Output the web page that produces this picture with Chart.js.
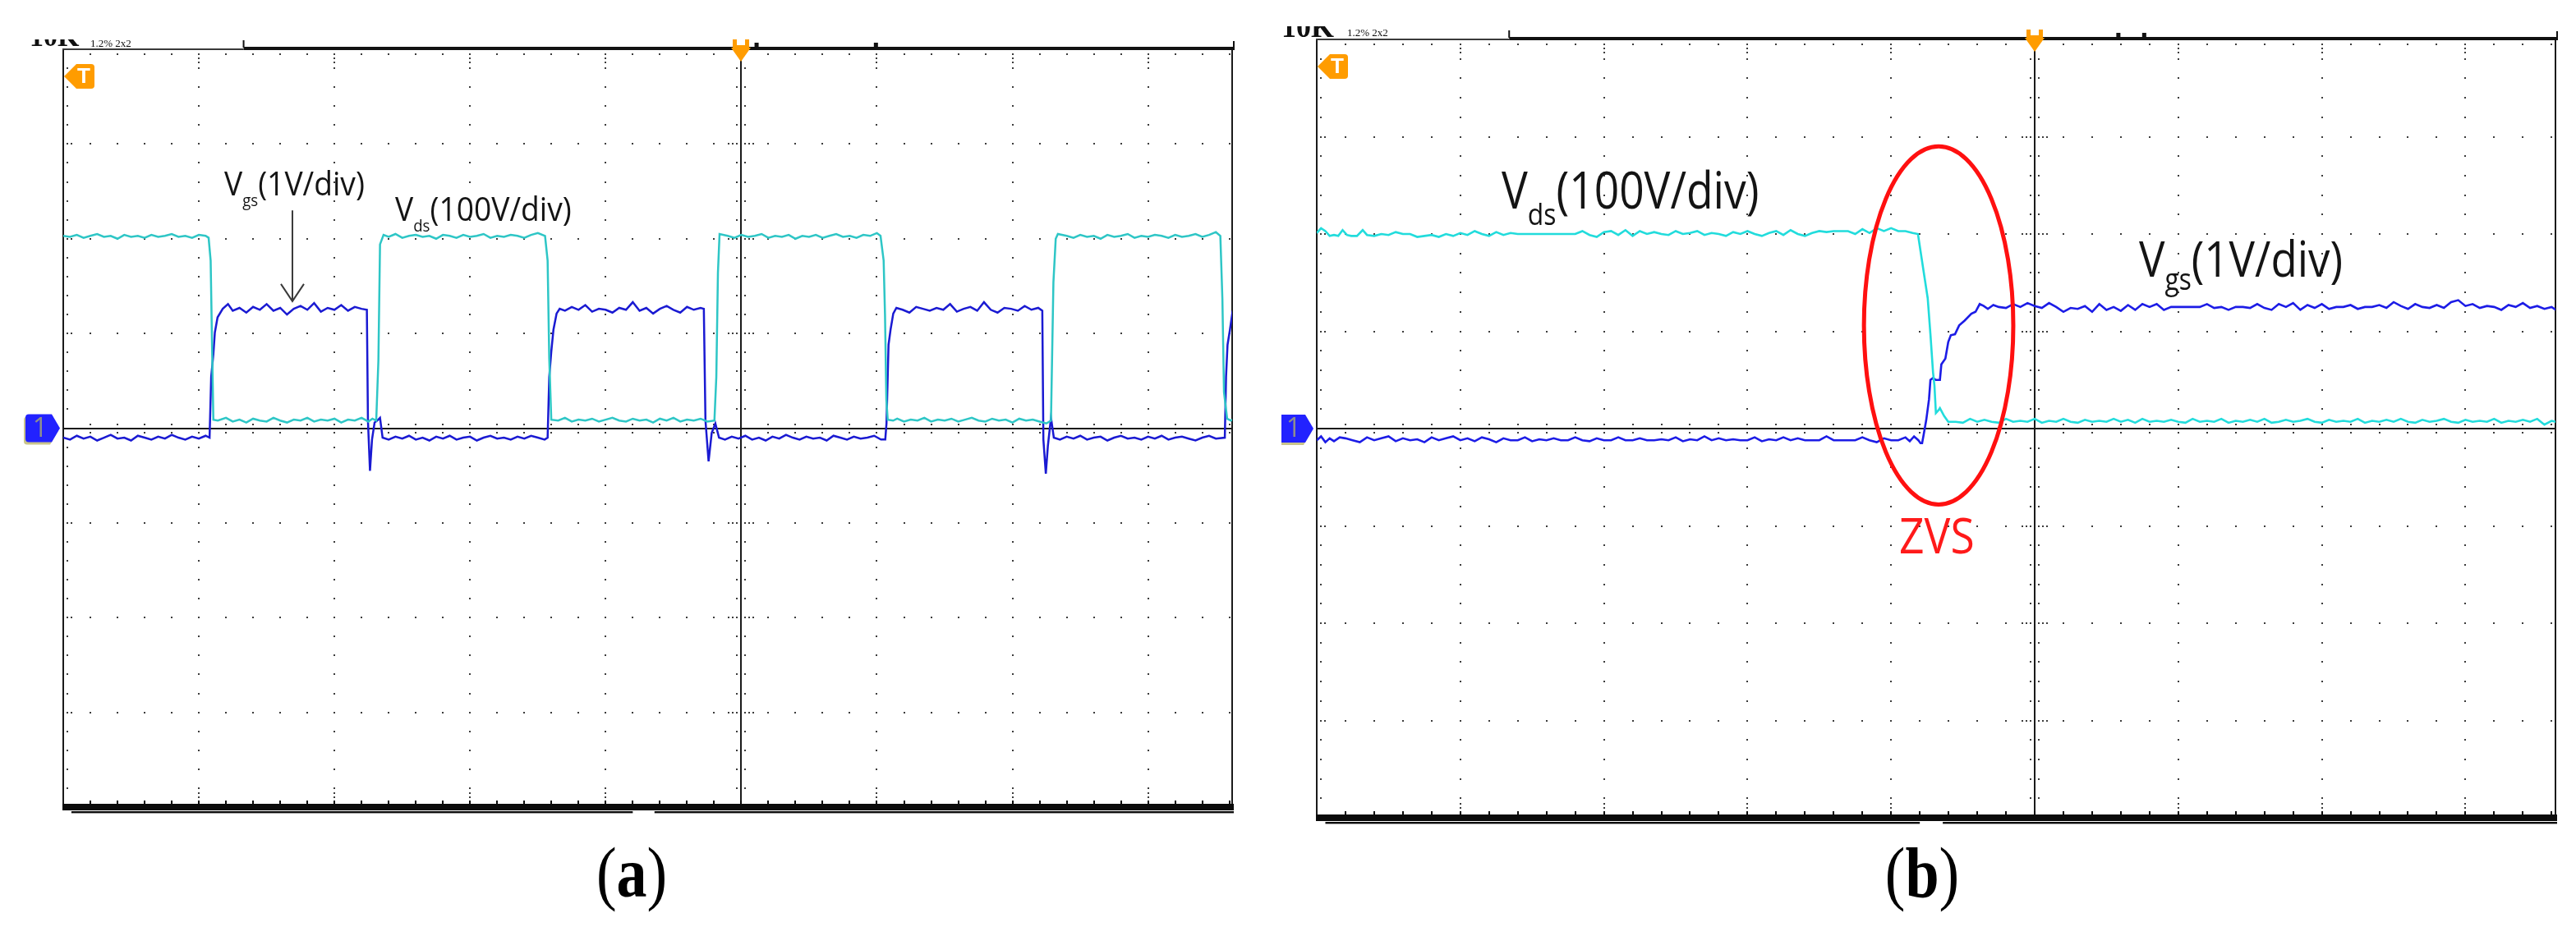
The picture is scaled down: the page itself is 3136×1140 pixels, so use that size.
<!DOCTYPE html>
<html>
<head>
<meta charset="utf-8">
<script src="https://cdn.jsdelivr.net/npm/chart.js@4.4.1/dist/chart.umd.min.js"></script>
<style>
  html, body { margin: 0; padding: 0; background: #fff; }
  body { width: 3136px; height: 1140px; position: relative; overflow: hidden; font-family: "Open Sans", sans-serif; }
  canvas { position: absolute; top: 0; }
  .lbl { position: absolute; white-space: nowrap; line-height: 1; color: #141414; transform-origin: 0 0; }
  .lbl .sb { position: relative; }
  .cap { position: absolute; width: 300px; text-align: center; font-family: "Liberation Serif", serif; font-size: 86px; line-height: 1; color: #000; transform: scaleX(0.86); }
  .cap b { font-weight: bold; }
  .hdr { position: absolute; overflow: hidden; }
  .hdr span { position: absolute; white-space: nowrap; line-height: 1; color: #111; font-family: "Liberation Serif", serif; font-weight: bold; }
</style>
</head>
<body>
<canvas id="scopeA" width="1560" height="1010" style="left:0;width:1560px;height:1010px"></canvas>
<canvas id="scopeB" width="1576" height="1020" style="left:1560px;width:1576px;height:1020px"></canvas>

<div class="hdr" style="left:36px;top:48px;width:160px;height:10px">
  <span style="left:0;top:-20px;font-size:34px">10K</span>
  <span style="left:74px;top:-2px;font-size:13px;font-weight:normal">1.2% 2x2</span>
</div>
<div class="hdr" style="left:1560px;top:32px;width:160px;height:14px">
  <span style="left:0;top:-17px;font-size:36px">10K</span>
  <span style="left:80px;top:1px;font-size:13px;font-weight:normal">1.2% 2x2</span>
</div>

<div class="lbl" style="left:273px;top:203px;font-size:40px;transform:scaleX(0.93)">V<span class="sb" style="font-size:20px;top:13px">gs</span>(1V/div)</div>
<div class="lbl" style="left:481px;top:234px;font-size:40px;transform:scaleX(0.93)">V<span class="sb" style="font-size:20px;top:13px">ds</span>(100V/div)</div>
<div class="lbl" style="left:1828px;top:199px;font-size:62px;transform:scaleX(0.86)">V<span class="sb" style="font-size:37px;top:20px">ds</span>(100V/div)</div>
<div class="lbl" style="left:2604px;top:284px;font-size:60px;transform:scaleX(0.88)">V<span class="sb" style="font-size:36px;top:16px">gs</span>(1V/div)</div>
<div class="lbl" style="left:2312px;top:621px;font-size:60px;color:#ff1a1a;transform:scaleX(0.89)">ZVS</div>

<div class="cap" style="left:619px;top:1020px">(<b>a</b>)</div>
<div class="cap" style="left:2190px;top:1020px">(<b>b</b>)</div>

<script>
// time in screen divisions, voltage in volts
// (a) Vds, 100 V/div
const vdsA = [[0,203],[0.05,202],[0.1,204],[0.15,201],[0.2,203],[0.25,205],[0.3,202],[0.35,203],[0.4,200],[0.45,204],[0.5,202],[0.55,203],[0.6,201],[0.65,204],[0.7,202],[0.75,203],[0.8,205],[0.85,202],[0.9,203],[0.95,201],[1,204],[1.05,203],[1.072,201],[1.087,177],[1.099,74],[1.107,9],[1.14,8],[1.2,11],[1.25,7],[1.3,9],[1.35,6],[1.4,10],[1.45,8],[1.5,7],[1.55,11],[1.6,8],[1.65,6],[1.7,9],[1.75,8],[1.8,11],[1.85,7],[1.9,9],[1.95,8],[2,10],[2.05,6],[2.1,9],[2.15,8],[2.2,11],[2.25,7],[2.28,10],[2.308,8],[2.324,71],[2.336,194],[2.362,204],[2.4,202],[2.45,205],[2.5,201],[2.55,203],[2.6,204],[2.65,202],[2.7,203],[2.75,200],[2.8,204],[2.85,203],[2.9,201],[2.95,204],[3,202],[3.05,203],[3.1,205],[3.15,201],[3.2,203],[3.25,202],[3.3,204],[3.35,203],[3.4,201],[3.45,204],[3.5,206],[3.553,203],[3.572,177],[3.584,74],[3.599,9],[3.65,8],[3.7,11],[3.75,7],[3.8,9],[3.85,8],[3.9,10],[3.95,7],[4,9],[4.05,11],[4.1,8],[4.15,7],[4.2,10],[4.25,8],[4.3,9],[4.35,6],[4.4,10],[4.45,8],[4.5,11],[4.55,7],[4.6,9],[4.65,8],[4.7,10],[4.75,7],[4.802,8],[4.816,54],[4.828,164],[4.84,205],[4.9,203],[4.95,201],[5,204],[5.05,202],[5.1,203],[5.15,205],[5.2,201],[5.25,203],[5.3,202],[5.35,204],[5.4,200],[5.45,203],[5.5,202],[5.55,204],[5.6,201],[5.65,203],[5.7,205],[5.75,202],[5.8,203],[5.85,201],[5.9,204],[5.95,203],[6,206],[6.027,203],[6.05,177],[6.06,120],[6.07,30],[6.08,9],[6.12,8],[6.15,10],[6.2,7],[6.25,9],[6.3,8],[6.35,11],[6.4,7],[6.45,9],[6.5,8],[6.55,10],[6.6,7],[6.65,9],[6.7,11],[6.75,8],[6.8,7],[6.85,10],[6.9,8],[6.95,9],[7,6],[7.05,10],[7.1,8],[7.15,9],[7.2,7],[7.25,5],[7.284,8],[7.302,154],[7.319,200],[7.335,205],[7.4,203],[7.45,201],[7.5,204],[7.55,202],[7.6,203],[7.65,200],[7.7,204],[7.75,202],[7.8,203],[7.85,205],[7.9,201],[7.95,203],[8,202],[8.05,204],[8.1,203],[8.15,201],[8.2,204],[8.25,202],[8.3,203],[8.35,205],[8.4,202],[8.45,204],[8.5,207],[8.533,203],[8.548,137],[8.56,38],[8.583,10],[8.61,8],[8.62,9]];

// (a) Vgs, 1 V/div
const vgsA = [[0,-0.1],[0.05,-0.12],[0.1,-0.08],[0.15,-0.11],[0.2,-0.09],[0.25,-0.13],[0.3,-0.1],[0.35,-0.07],[0.4,-0.11],[0.45,-0.1],[0.5,-0.13],[0.55,-0.08],[0.6,-0.1],[0.65,-0.12],[0.7,-0.09],[0.75,-0.11],[0.8,-0.07],[0.85,-0.1],[0.9,-0.12],[0.95,-0.09],[1,-0.11],[1.05,-0.08],[1.079,-0.1],[1.091,0.54],[1.107,0.78],[1.118,1.01],[1.138,1.17],[1.176,1.26],[1.215,1.31],[1.25,1.24],[1.3,1.27],[1.35,1.22],[1.4,1.28],[1.45,1.25],[1.5,1.31],[1.55,1.24],[1.6,1.27],[1.65,1.2],[1.7,1.26],[1.75,1.29],[1.8,1.25],[1.85,1.32],[1.9,1.23],[1.95,1.27],[2,1.25],[2.05,1.3],[2.1,1.24],[2.15,1.28],[2.2,1.26],[2.239,1.25],[2.247,0.08],[2.262,-0.45],[2.277,-0.12],[2.296,0.06],[2.315,0.08],[2.336,0.11],[2.355,-0.1],[2.4,-0.12],[2.45,-0.09],[2.5,-0.11],[2.55,-0.08],[2.6,-0.12],[2.65,-0.1],[2.7,-0.13],[2.75,-0.09],[2.8,-0.11],[2.85,-0.08],[2.9,-0.12],[2.95,-0.1],[3,-0.09],[3.05,-0.13],[3.1,-0.1],[3.15,-0.08],[3.2,-0.11],[3.25,-0.1],[3.3,-0.12],[3.35,-0.09],[3.4,-0.11],[3.45,-0.08],[3.5,-0.1],[3.55,-0.12],[3.572,-0.1],[3.584,0.54],[3.599,0.81],[3.615,1.04],[3.638,1.21],[3.661,1.26],[3.7,1.24],[3.75,1.28],[3.8,1.25],[3.85,1.3],[3.9,1.23],[3.95,1.26],[4,1.25],[4.05,1.22],[4.1,1.27],[4.15,1.25],[4.2,1.33],[4.25,1.24],[4.3,1.27],[4.35,1.21],[4.4,1.26],[4.45,1.29],[4.5,1.25],[4.55,1.22],[4.6,1.28],[4.65,1.25],[4.7,1.27],[4.724,1.26],[4.736,0.08],[4.759,-0.35],[4.782,-0.05],[4.809,0.05],[4.836,-0.1],[4.88,-0.12],[4.93,-0.09],[4.98,-0.11],[5.03,-0.08],[5.08,-0.12],[5.13,-0.1],[5.18,-0.13],[5.23,-0.09],[5.28,-0.11],[5.33,-0.07],[5.38,-0.1],[5.43,-0.12],[5.48,-0.09],[5.53,-0.11],[5.58,-0.1],[5.63,-0.13],[5.68,-0.08],[5.73,-0.1],[5.78,-0.12],[5.83,-0.09],[5.88,-0.11],[5.93,-0.1],[5.98,-0.08],[6.03,-0.12],[6.062,-0.12],[6.071,0.05],[6.086,0.88],[6.101,1.04],[6.121,1.21],[6.144,1.27],[6.19,1.25],[6.24,1.22],[6.29,1.28],[6.34,1.26],[6.39,1.24],[6.44,1.27],[6.49,1.25],[6.54,1.31],[6.59,1.23],[6.64,1.26],[6.69,1.28],[6.74,1.24],[6.79,1.33],[6.84,1.25],[6.89,1.22],[6.94,1.27],[6.99,1.26],[7.04,1.24],[7.09,1.29],[7.14,1.25],[7.19,1.27],[7.22,1.24],[7.228,-0.12],[7.246,-0.48],[7.261,-0.19],[7.284,0.11],[7.305,-0.1],[7.35,-0.12],[7.4,-0.09],[7.45,-0.11],[7.5,-0.08],[7.55,-0.12],[7.6,-0.1],[7.65,-0.09],[7.7,-0.13],[7.75,-0.1],[7.8,-0.08],[7.85,-0.11],[7.9,-0.1],[7.95,-0.12],[8,-0.09],[8.05,-0.11],[8.1,-0.08],[8.15,-0.12],[8.2,-0.1],[8.25,-0.09],[8.3,-0.11],[8.35,-0.13],[8.4,-0.1],[8.45,-0.08],[8.5,-0.11],[8.566,-0.1],[8.575,0.54],[8.586,0.88],[8.604,1.04],[8.624,1.24]];

// (b) Vds, 100 V/div
const vdsB = [[0,201],[0.03,206],[0.06,203],[0.09,198],[0.12,199],[0.15,198],[0.18,204],[0.21,199],[0.24,198],[0.28,198],[0.32,204],[0.35,199],[0.4,198],[0.45,200],[0.5,199],[0.55,202],[0.6,200],[0.65,200],[0.7,197],[0.75,198],[0.8,199],[0.85,197],[0.9,200],[0.95,198],[1,201],[1.05,199],[1.1,203],[1.15,200],[1.2,198],[1.25,202],[1.3,199],[1.35,201],[1.4,200],[1.45,200],[1.5,200],[1.55,200],[1.6,200],[1.65,200],[1.7,200],[1.75,200],[1.8,200],[1.85,203],[1.9,199],[1.95,197],[2,202],[2.05,203],[2.1,199],[2.15,204],[2.2,198],[2.25,203],[2.3,200],[2.35,202],[2.4,200],[2.45,199],[2.5,203],[2.55,200],[2.6,201],[2.65,203],[2.7,199],[2.75,201],[2.8,200],[2.85,198],[2.9,202],[2.95,200],[3,203],[3.05,200],[3.1,198],[3.15,201],[3.2,203],[3.25,199],[3.3,204],[3.35,200],[3.4,198],[3.45,201],[3.5,203],[3.55,202],[3.6,203],[3.65,203],[3.7,203],[3.75,200],[3.8,205],[3.85,201],[3.9,206],[3.95,203],[4,206],[4.05,203],[4.1,203],[4.15,201],[4.187,200],[4.226,162],[4.255,134],[4.274,97],[4.292,58],[4.302,44],[4.312,16],[4.331,19],[4.34,21],[4.369,13],[4.398,7],[4.45,7],[4.5,6],[4.55,10],[4.6,7],[4.65,9],[4.7,7],[4.75,6],[4.8,10],[4.85,7],[4.9,8],[4.95,7],[5,10],[5.05,6],[5.1,8],[5.15,7],[5.2,10],[5.25,7],[5.3,6],[5.35,9],[5.4,7],[5.45,8],[5.5,7],[5.55,10],[5.6,7],[5.65,9],[5.7,6],[5.75,10],[5.8,7],[5.85,8],[5.9,7],[5.95,9],[6,7],[6.05,6],[6.1,10],[6.15,7],[6.2,8],[6.25,7],[6.3,10],[6.35,6],[6.4,8],[6.45,7],[6.5,9],[6.55,7],[6.6,10],[6.65,6],[6.7,7],[6.75,9],[6.8,7],[6.85,8],[6.9,10],[6.95,7],[7,6],[7.05,9],[7.1,7],[7.15,8],[7.2,7],[7.25,10],[7.3,6],[7.35,8],[7.4,7],[7.45,9],[7.5,7],[7.55,10],[7.6,7],[7.65,6],[7.7,9],[7.75,7],[7.8,8],[7.85,10],[7.9,7],[7.95,6],[8,9],[8.05,7],[8.1,8],[8.15,7],[8.2,10],[8.25,6],[8.3,8],[8.35,7],[8.4,9],[8.45,7],[8.5,10],[8.55,4],[8.6,8],[8.63,7]];

// (b) Vgs, 1 V/div
const vgsB = [[0,-0.12],[0.03,-0.08],[0.06,-0.14],[0.09,-0.1],[0.12,-0.13],[0.16,-0.09],[0.2,-0.1],[0.25,-0.12],[0.3,-0.14],[0.35,-0.09],[0.4,-0.12],[0.45,-0.1],[0.5,-0.08],[0.55,-0.13],[0.6,-0.1],[0.65,-0.12],[0.7,-0.11],[0.75,-0.14],[0.8,-0.09],[0.85,-0.12],[0.9,-0.1],[0.95,-0.08],[1,-0.12],[1.05,-0.1],[1.1,-0.13],[1.15,-0.09],[1.2,-0.11],[1.25,-0.14],[1.3,-0.1],[1.35,-0.12],[1.4,-0.12],[1.45,-0.09],[1.5,-0.13],[1.55,-0.11],[1.6,-0.12],[1.65,-0.1],[1.7,-0.12],[1.75,-0.12],[1.8,-0.09],[1.85,-0.12],[1.9,-0.13],[1.95,-0.1],[2,-0.12],[2.05,-0.12],[2.1,-0.09],[2.15,-0.12],[2.2,-0.12],[2.25,-0.1],[2.3,-0.12],[2.35,-0.12],[2.4,-0.11],[2.45,-0.12],[2.5,-0.09],[2.55,-0.13],[2.6,-0.11],[2.65,-0.12],[2.7,-0.08],[2.75,-0.12],[2.8,-0.1],[2.85,-0.12],[2.9,-0.11],[2.95,-0.12],[3,-0.12],[3.05,-0.09],[3.1,-0.13],[3.15,-0.11],[3.2,-0.12],[3.25,-0.09],[3.3,-0.12],[3.35,-0.1],[3.4,-0.12],[3.45,-0.12],[3.5,-0.12],[3.55,-0.08],[3.6,-0.12],[3.65,-0.12],[3.7,-0.12],[3.75,-0.12],[3.8,-0.09],[3.85,-0.12],[3.9,-0.14],[3.95,-0.1],[4,-0.12],[4.05,-0.12],[4.1,-0.09],[4.13,-0.13],[4.16,-0.08],[4.19,-0.12],[4.205,-0.15],[4.216,-0.15],[4.226,-0.07],[4.245,0.09],[4.264,0.3],[4.274,0.5],[4.292,0.52],[4.312,0.5],[4.34,0.5],[4.35,0.66],[4.378,0.72],[4.398,0.89],[4.416,0.96],[4.445,0.97],[4.474,1.06],[4.512,1.11],[4.559,1.18],[4.588,1.2],[4.617,1.28],[4.645,1.26],[4.674,1.23],[4.712,1.27],[4.75,1.25],[4.8,1.24],[4.85,1.28],[4.9,1.25],[4.95,1.29],[5,1.26],[5.05,1.24],[5.1,1.29],[5.15,1.25],[5.2,1.2],[5.25,1.24],[5.3,1.23],[5.35,1.26],[5.4,1.2],[5.45,1.28],[5.5,1.22],[5.55,1.25],[5.6,1.21],[5.65,1.27],[5.7,1.22],[5.75,1.28],[5.8,1.25],[5.85,1.28],[5.9,1.22],[5.95,1.25],[6,1.25],[6.05,1.25],[6.1,1.25],[6.15,1.25],[6.2,1.28],[6.25,1.24],[6.3,1.25],[6.35,1.22],[6.4,1.25],[6.45,1.25],[6.5,1.24],[6.55,1.28],[6.6,1.24],[6.65,1.22],[6.7,1.28],[6.75,1.25],[6.8,1.29],[6.85,1.22],[6.9,1.27],[6.95,1.24],[7,1.28],[7.05,1.23],[7.1,1.25],[7.15,1.25],[7.2,1.27],[7.25,1.23],[7.3,1.25],[7.35,1.25],[7.4,1.27],[7.45,1.24],[7.5,1.3],[7.55,1.26],[7.6,1.23],[7.65,1.28],[7.7,1.25],[7.75,1.24],[7.8,1.27],[7.85,1.24],[7.9,1.3],[7.95,1.32],[8,1.26],[8.05,1.28],[8.1,1.24],[8.15,1.26],[8.2,1.25],[8.25,1.22],[8.3,1.27],[8.35,1.25],[8.4,1.29],[8.45,1.24],[8.5,1.26],[8.55,1.23],[8.6,1.25],[8.63,1.22]];

const SUB = 0.2; // minor subdivision, in divisions

// draws the scope graticule, bars and markers using the chart's own scales
const scopePlugin = {
  id: 'scope',
  beforeDatasetsDraw(chart, args, o) {
    const ctx = chart.ctx, a = chart.chartArea;
    const xs = chart.scales.x, ys = chart.scales.yG;
    const X = v => xs.getPixelForValue(v), Y = v => ys.getPixelForValue(v);
    const dot = (px, py) => ctx.fillRect(Math.round(px) - 1, Math.round(py) - 1, 2, 2);
    const nx = Math.floor(xs.max / SUB + 1e-6);
    ctx.save();
    ctx.fillStyle = '#3c3c3c';
    for (let i = 1; i < xs.max; i++) {
      if (i === 5) continue;
      for (let k = 1; k < 40; k++) dot(X(i), Y(-4 + k * SUB));
    }
    for (let j = -3; j <= 3; j++) {
      if (j === 0) continue;
      for (let k = 1; k <= nx; k++) dot(X(k * SUB), Y(j));
    }
    const cx = X(5), cy = Y(0);
    for (let k = 1; k < 40; k++) {
      const py = Y(-4 + k * SUB);
      dot(cx - 5, py); dot(cx + 5, py);
      dot(a.left + 5, py);
      if (k % 5 === 0) {
        dot(cx - 10, py); dot(cx + 10, py); dot(cx - 15, py); dot(cx + 15, py);
        dot(a.left + 10, py);
      }
    }
    for (let k = 1; k <= nx; k++) {
      const px = X(k * SUB);
      dot(px, cy - 5); dot(px, cy + 5);
      dot(px, a.top + 6);
      if (k % 5 === 0) { dot(px, a.top + 11); dot(px, a.top + 16); dot(px, a.bottom - 12); dot(px, a.bottom - 17); }
    }
    ctx.fillStyle = '#1a1a1a';
    ctx.fillRect(Math.round(cx) - 1, a.top, 2, a.bottom - a.top);
    ctx.fillRect(a.left, Math.round(cy) - 1, a.right - a.left, 2);
    ctx.fillRect(a.left - 1, a.top, 2, a.bottom - a.top);
    ctx.fillRect(a.right - 1, a.top, 2, a.bottom - a.top);
    ctx.restore();
  },
  afterDatasetsDraw(chart, args, o) {
    const ctx = chart.ctx, a = chart.chartArea;
    const xs = chart.scales.x, ys = chart.scales.yG;
    const X = v => xs.getPixelForValue(v), Y = v => ys.getPixelForValue(v);
    const nx = Math.floor(xs.max / SUB + 1e-6);
    ctx.save();

    // top memory bar
    const bx = X(o.barStart);
    ctx.fillStyle = '#3a3a3a';
    ctx.fillRect(a.left - 1, a.top - 1, bx - a.left + 1, 2);
    ctx.fillStyle = '#111';
    ctx.fillRect(bx, a.top - 3, a.right + 3 - bx, 4);
    ctx.fillRect(bx - 1, a.top - 11, 2, 9);
    ctx.fillRect(a.right + 1, a.top - 10, 2, 9);
    for (const m of o.barMarks) ctx.fillRect(X(m) - 2, a.top - 8, 5, 6);

    // bottom bar with ticks and double rule
    ctx.fillStyle = '#0b0b0b';
    ctx.fillRect(a.left - 1, a.bottom - 4, a.right - a.left + 3, 8);
    for (let k = 1; k <= nx; k++) ctx.fillRect(Math.round(X(k * SUB)) - 1, a.bottom - 8, 2, 5);
    ctx.fillRect(X(0.06), a.bottom + 5, X(4.2) - X(0.06), 2);
    ctx.fillRect(X(4.36), a.bottom + 5, a.right + 2 - X(4.36), 2);
    ctx.fillStyle = '#a0a0a0';
    ctx.fillRect(X(0.06), a.bottom + 7, X(4.2) - X(0.06), 1);
    ctx.fillRect(X(4.36), a.bottom + 7, a.right + 2 - X(4.36), 1);

    // trigger position marker
    const cx = Math.round(X(5));
    ctx.fillStyle = '#ff9c00';
    ctx.fillRect(cx - 10, a.top - 12, 5, 9);
    ctx.fillRect(cx + 5, a.top - 12, 5, 9);
    ctx.fillRect(cx - 10, a.top - 5, 20, 4);
    ctx.beginPath();
    ctx.moveTo(cx - 12, a.top - 2); ctx.lineTo(cx + 12, a.top - 2); ctx.lineTo(cx, a.top + 15);
    ctx.closePath(); ctx.fill();

    // trigger level marker "T"
    const tx = a.left + 1, ty = a.top + 33;
    ctx.beginPath();
    ctx.moveTo(tx, ty);
    ctx.lineTo(tx + 15, ty - 15);
    ctx.lineTo(tx + 33, ty - 15);
    ctx.quadraticCurveTo(tx + 37, ty - 15, tx + 37, ty - 11);
    ctx.lineTo(tx + 37, ty + 11);
    ctx.quadraticCurveTo(tx + 37, ty + 15, tx + 33, ty + 15);
    ctx.lineTo(tx + 15, ty + 15);
    ctx.closePath(); ctx.fill();
    ctx.fillStyle = '#fff';
    ctx.font = 'bold 26px "Liberation Sans", sans-serif';
    ctx.textAlign = 'center'; ctx.textBaseline = 'middle';
    ctx.fillText('T', tx + 24, ty + 1);

    // channel 1 ground marker
    const gy = Y(0), gx = a.left - 4;
    const chan = (dx, dy) => {
      ctx.beginPath();
      ctx.moveTo(gx + dx, gy + dy);
      ctx.lineTo(gx - 10 + dx, gy - 17 + dy);
      ctx.lineTo(gx - 38 + dx, gy - 17 + dy);
      ctx.quadraticCurveTo(gx - 42 + dx, gy - 17 + dy, gx - 42 + dx, gy - 13 + dy);
      ctx.lineTo(gx - 42 + dx, gy + 13 + dy);
      ctx.quadraticCurveTo(gx - 42 + dx, gy + 17 + dy, gx - 38 + dx, gy + 17 + dy);
      ctx.lineTo(gx - 10 + dx, gy + 17 + dy);
      ctx.closePath(); ctx.fill();
    };
    ctx.fillStyle = '#c9c48a'; chan(-2, 3);
    ctx.fillStyle = '#2222ff'; chan(0, 0);
    ctx.fillStyle = '#8e8e8e';
    ctx.font = '32px "Open Sans", sans-serif';
    ctx.fillText('1', gx - 24, gy + 1);

    // annotation arrow
    if (o.arrow) {
      const ax = X(o.arrow.t), y0 = Y(o.arrow.v0), y1 = Y(o.arrow.v1);
      ctx.strokeStyle = '#3a3a3a'; ctx.lineWidth = 2;
      ctx.beginPath();
      ctx.moveTo(ax, y0); ctx.lineTo(ax, y1);
      ctx.moveTo(ax - 14, y1 - 21); ctx.lineTo(ax, y1); ctx.lineTo(ax + 14, y1 - 21);
      ctx.stroke();
    }
    // ZVS ellipse
    if (o.ellipse) {
      const e = o.ellipse, ex = X(e.t), ey = Y(e.v);
      ctx.strokeStyle = '#ff1010'; ctx.lineWidth = 5;
      ctx.beginPath();
      ctx.ellipse(ex, ey, Math.abs(X(e.t + e.rt) - ex), Math.abs(Y(e.v + e.rv) - ey), 0, 0, Math.PI * 2);
      ctx.stroke();
    }
    ctx.restore();
  }
};

function scopeChart(id, tMax, vds, vgs, look, pad, extra) {
  return new Chart(document.getElementById(id), {
    type: 'line',
    data: {
      datasets: [
        { data: vds.map(([t, v]) => ({ x: t, y: v })), yAxisID: 'yD', borderColor: look.cyan, borderWidth: look.w, pointRadius: 0 },
        { data: vgs.map(([t, v]) => ({ x: t, y: v })), yAxisID: 'yG', borderColor: look.blue, borderWidth: look.w, pointRadius: 0 }
      ]
    },
    options: {
      responsive: false,
      animation: false,
      events: [],
      layout: { padding: pad },
      plugins: { legend: { display: false }, tooltip: { enabled: false }, scope: extra },
      elements: { line: { tension: 0 } },
      scales: {
        x: { type: 'linear', min: 0, max: tMax, display: false },
        yD: { type: 'linear', min: -400, max: 400, display: false },
        yG: { type: 'linear', min: -4, max: 4, display: false }
      }
    },
    plugins: [scopePlugin]
  });
}

scopeChart('scopeA', 8.62, vdsA, vgsA,
  { cyan: '#2ec6c6', blue: '#1a1ad2', w: 2.5 },
  { left: 77, top: 60, right: 60, bottom: 27 },
  { barStart: 1.33, barMarks: [5.11, 5.99], arrow: { t: 1.69, v0: 2.3, v1: 1.34 } });

scopeChart('scopeB', 8.627, vdsB, vgsB,
  { cyan: '#22dcdc', blue: '#1c1ce6', w: 2.6 },
  { left: 43, top: 48, right: 25, bottom: 24 },
  { barStart: 1.34, barMarks: [5.58, 5.76], ellipse: { t: 4.331, v: 1.06, rt: 0.52, rv: 1.84 } });
</script>
</body>
</html>
